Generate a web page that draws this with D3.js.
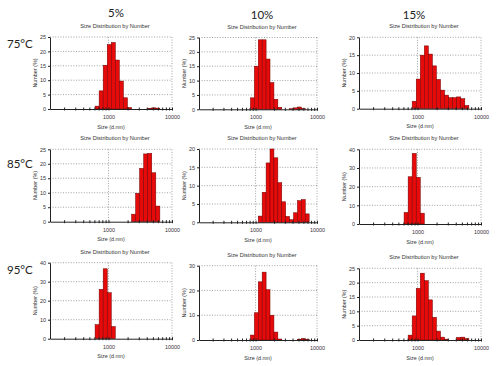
<!DOCTYPE html>
<meta charset="utf-8">

<head>
  <title>Size Distribution by Number</title>
  <script src="https://d3js.org/d3.v7.min.js"></script>
  <style>
    body { margin: 0; background: #fff; }
    .small { font-family: "Liberation Sans", Arial, sans-serif; font-size: 5.4px; fill: #333; }
    .head { font-family: Lato, "Liberation Sans", sans-serif; font-size: 11.5px; fill: #222; }
    .grid { stroke: #8a8a8a; stroke-width: 0.8; stroke-dasharray: 1, 1.6; }
  </style>
</head>

<body>
  <div id="my_dataviz"></div>

  <script>
    // column and row headers
    var concentrations = ["5%", "10%", "15%"];
    var temperatures = ["75°C", "85°C", "95°C"];

    // histogram bin lower edges (d.nm), last entry closes the last bin
    var sizes = [615.1, 712.4, 825.0, 955.4, 1106, 1281, 1484, 1718, 1990,
      2305, 2669, 3091, 3580, 4145, 4801, 5560, 6439, 7456];

    // number (%) per bin, rows = temperature, columns = concentration
    var n75_5 = [1, 6.3, 15.2, 22.4, 23.1, 17, 9.7, 3.9, 0.5, 0, 0, 0, 0, 0.2, 0.4, 0.3, 0];
    var n75_10 = [0, 0, 4, 15, 24.2, 24.2, 17.5, 9.3, 3.5, 0.7, 0, 0, 0.2, 0.5, 0.8, 0.3, 0];
    var n75_15 = [0, 0, 2.1, 8.3, 15, 17.6, 15.3, 12, 8.2, 5.2, 3.8, 3.1, 3.1, 3.3, 2.8, 0.9, 0];
    var n85_5 = [0, 0, 0, 0, 0, 0, 0, 0, 0, 2.6, 9.8, 18.4, 23.4, 23.6, 16.9, 5.4, 0];
    var n85_10 = [0, 0, 0, 0, 1.7, 8.2, 16.2, 20, 17.6, 10.8, 5.6, 1.6, 0.7, 2.6, 5.9, 6.2, 2.3];
    var n85_15 = [6.2, 25.3, 37.8, 25, 5.8, 0, 0, 0, 0, 0, 0, 0, 0, 0, 0, 0, 0];
    var n95_5 = [7.4, 26, 36.8, 24.2, 6.4, 0, 0, 0, 0, 0, 0, 0, 0, 0, 0, 0, 0];
    var n95_10 = [0, 0, 2, 11, 23.5, 27.4, 20.3, 10, 3.2, 0.4, 0, 0, 0, 0, 0.3, 0.6, 0.2];
    var n95_15 = [0, 1.7, 8.4, 18, 23.3, 20.7, 14, 7.9, 3.1, 1, 0.3, 0, 0, 0.9, 1, 0.5, 0];

    var series = [n75_5, n75_10, n75_15, n85_5, n85_10, n85_15, n95_5, n95_10, n95_15];
    var yMax = [25, 25, 20, 25, 20, 40, 40, 30, 25];
    var yStep = [5, 5, 5, 5, 5, 10, 10, 10, 5];

    var xTicks = [200, 300, 400, 500, 600, 700, 800, 900, 1000,
      2000, 3000, 4000, 5000, 6000, 7000, 8000, 9000, 10000];

    // layout of the panels in pixels
    var colX = [[50, 172], [199, 317], [359, 481]];
    var panelY = [[37, 109], [37.5, 109.3], [37.3, 108.7],
      [149.3, 221.7], [149, 222.3], [149.3, 224],
      [262.7, 338.7], [265.7, 340], [268.3, 340]];

    var svg = d3.select("#my_dataviz")
      .append("svg")
      .attr("width", 500)
      .attr("height", 366);

    // headers
    var headX = [116, 262, 414], headY = [17, 19, 19];
    svg.selectAll(".colhead")
      .data(concentrations)
      .enter()
      .append("text")
      .attr("class", "head")
      .attr("x", (d, i) => headX[i])
      .attr("y", (d, i) => headY[i])
      .attr("text-anchor", "middle")
      .text(d => d);

    var rowY = [47.5, 168, 274];
    svg.selectAll(".rowhead")
      .data(temperatures)
      .enter()
      .append("text")
      .attr("class", "head")
      .attr("x", 7)
      .attr("y", (d, i) => rowY[i])
      .text(d => d);

    series.forEach(function (values, p) {
      var col = p % 3;
      var x0 = colX[col][0], x1 = colX[col][1];
      var top = panelY[p][0], bottom = panelY[p][1];

      var x = d3.scaleLog().domain([120, 10000]).range([x0, x1]);
      var y = d3.scaleLinear().domain([0, yMax[p]]).range([bottom, top]);
      var yTicks = d3.range(0, yMax[p] + 0.001, yStep[p]);

      var g = svg.append("g");

      // dotted grid
      g.selectAll(".hgrid")
        .data(yTicks.filter(d => d > 0))
        .enter()
        .append("line")
        .attr("class", "grid")
        .attr("x1", x0).attr("x2", x1)
        .attr("y1", d => y(d)).attr("y2", d => y(d));

      g.selectAll(".vgrid")
        .data([1000, 10000])
        .enter()
        .append("line")
        .attr("class", "grid")
        .attr("x1", d => x(d)).attr("x2", d => x(d))
        .attr("y1", top).attr("y2", bottom);

      // bars
      var bars = values.map((v, i) => ({ lo: sizes[i], hi: sizes[i + 1], v: v }))
        .filter(d => d.v > 0);

      g.selectAll("rect")
        .data(bars)
        .enter()
        .append("rect")
        .attr("x", d => x(d.lo))
        .attr("width", d => x(d.hi) - x(d.lo))
        .attr("y", d => y(d.v))
        .attr("height", d => y(0) - y(d.v))
        .attr("fill", "#e60a0a")
        .attr("stroke", "#6e0000")
        .attr("stroke-width", 0.5);

      // axes
      var xAxis = g.append("g")
        .attr("transform", "translate(0," + bottom + ")")
        .call(d3.axisBottom(x)
          .tickValues(xTicks)
          .tickSizeInner(2)
          .tickSizeOuter(0)
          .tickPadding(4)
          .tickFormat(d => (d === 1000 || d === 10000) ? d : ""));
      xAxis.selectAll(".tick line").attr("y1", -1.5).attr("y2", 1.5).attr("stroke", "#222");
      xAxis.select(".domain").attr("stroke", "#222");
      xAxis.selectAll("text").attr("class", "small").attr("font-size", null).attr("font-family", null);

      var yAxis = g.append("g")
        .attr("transform", "translate(" + x0 + ",0)")
        .call(d3.axisLeft(y)
          .tickValues(yTicks)
          .tickSizeInner(2)
          .tickSizeOuter(0)
          .tickPadding(2));
      yAxis.selectAll(".tick line").attr("stroke", "#222");
      yAxis.select(".domain").attr("stroke", "#222");
      yAxis.selectAll("text").attr("class", "small").attr("font-size", null).attr("font-family", null);

      // labels
      g.append("text")
        .attr("class", "small")
        .attr("x", (x0 + x1) / 2 + 4)
        .attr("y", top - 9)
        .attr("text-anchor", "middle")
        .style("font-size", "5.6px")
        .text("Size Distribution by Number");

      g.append("text")
        .attr("class", "small")
        .attr("x", (x0 + x1) / 2)
        .attr("y", bottom + 19.5)
        .attr("text-anchor", "middle")
        .text("Size (d.nm)");

      g.append("text")
        .attr("class", "small")
        .attr("transform", "translate(" + (x0 - 13.5) + "," + ((top + bottom) / 2) + ") rotate(-90)")
        .attr("text-anchor", "middle")
        .text("Number (%)");
    });
  </script>
</body>

</html>
